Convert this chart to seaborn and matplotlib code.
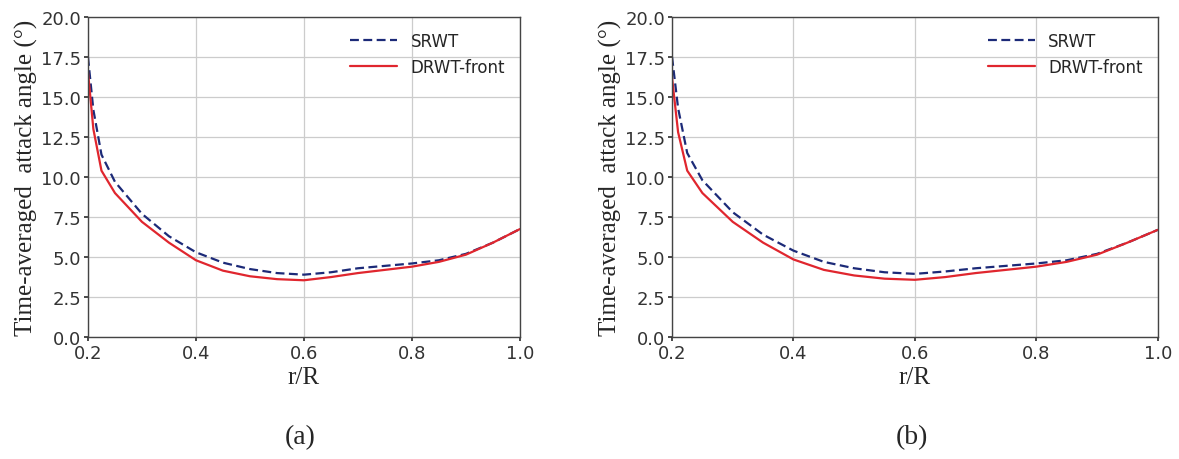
import numpy as np
import pandas as pd
import matplotlib
matplotlib.use("Agg")
import matplotlib.pyplot as plt
import seaborn as sns

# ---- data ----
r_R = [0.20, 0.21, 0.225, 0.25, 0.30, 0.35, 0.40, 0.45, 0.50, 0.55, 0.60, 0.65, 0.70, 0.75, 0.80, 0.85, 0.90, 0.95, 1.00]

srwt_a = [17.5, 14.2, 11.4, 9.7, 7.7, 6.3, 5.3, 4.65, 4.25, 4.0, 3.9, 4.05, 4.3, 4.45, 4.6, 4.8, 5.2, 5.9, 6.75]
drwt_a = [16.6, 13.0, 10.4, 9.0, 7.2, 5.9, 4.8, 4.15, 3.8, 3.62, 3.55, 3.75, 4.0, 4.2, 4.4, 4.7, 5.15, 5.9, 6.75]

srwt_b = [17.5, 14.3, 11.5, 9.8, 7.8, 6.4, 5.4, 4.7, 4.3, 4.05, 3.95, 4.1, 4.3, 4.45, 4.6, 4.8, 5.2, 5.9, 6.7]
drwt_b = [16.2, 12.8, 10.4, 9.0, 7.2, 5.9, 4.85, 4.2, 3.85, 3.65, 3.58, 3.75, 4.0, 4.2, 4.4, 4.7, 5.15, 5.9, 6.7]

series_names = ["SRWT", "DRWT-front"]
panel_labels = ["(a)", "(b)"]
x_ticks = [0.2, 0.4, 0.6, 0.8, 1.0]
y_ticks = [0.0, 2.5, 5.0, 7.5, 10.0, 12.5, 15.0, 17.5, 20.0]
x_label = "r/R"
y_label = "Time-averaged  attack angle (°)"

sns.set_theme(style="whitegrid")
plt.rcParams['font.family'] = ['DejaVu Sans']

fig = plt.figure(figsize=(11.79, 4.60), dpi=100)
axes = [fig.add_axes([0.0746, 0.265, 0.3664, 0.696]),
        fig.add_axes([0.570, 0.265, 0.412, 0.696])]

palette = {"SRWT": "#1c2a78", "DRWT-front": "#e0262e"}
dashes = {"SRWT": (4, 2), "DRWT-front": ""}

panels = [(srwt_a, drwt_a), (srwt_b, drwt_b)]
cap_x = [300, 912]
for ax, (s, d), lab, cx in zip(axes, panels, panel_labels, cap_x):
    df = pd.DataFrame({
        "r/R": r_R + r_R,
        "angle": s + d,
        "case": [series_names[0]] * len(r_R) + [series_names[1]] * len(r_R),
    })
    sns.lineplot(data=df, x="r/R", y="angle", hue="case", style="case",
                 palette=palette, dashes=dashes, linewidth=1.6, ax=ax,
                 hue_order=series_names, style_order=series_names)
    ax.set_xlim(0.2, 1.0)
    ax.set_ylim(0, 20)
    ax.set_xticks(x_ticks)
    ax.set_yticks(y_ticks)
    ax.set_xticklabels([f"{v:.1f}" for v in x_ticks], fontsize=13, color='#333333')
    ax.set_yticklabels([f"{v:.1f}" for v in y_ticks], fontsize=13, color='#333333')
    ax.tick_params(axis='both', length=3, pad=2, left=True, bottom=True, color='#333333')
    ax.set_xlabel(x_label, family=['Liberation Serif'], fontsize=18, labelpad=3)
    ax.set_ylabel(y_label, family=['Liberation Serif'], fontsize=18, labelpad=2)
    for sp in ax.spines.values():
        sp.set_linewidth(1.0)
        sp.set_color('#444444')
    ax.grid(True, color='#cccccc', linewidth=0.9)
    leg = ax.legend(loc='upper right', frameon=False, fontsize=12,
                    handlelength=2.8, borderaxespad=0.5)
    fig.text(cx / 1179, 1 - 438 / 460, lab, family=['Liberation Serif'],
             fontsize=20, ha='center', va='center')

fig.savefig("out.png", dpi=100, facecolor='white')
